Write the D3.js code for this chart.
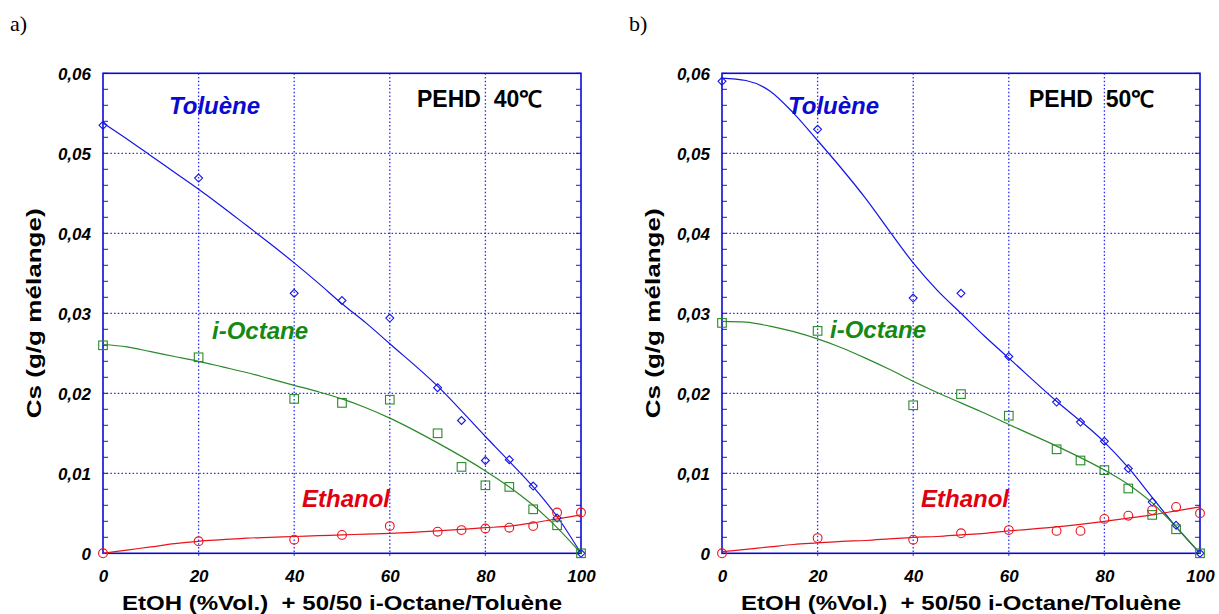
<!DOCTYPE html>
<html><head><meta charset="utf-8">
<script src="https://cdn.jsdelivr.net/npm/d3@7"></script>
<style>
body{margin:0;background:#fff;}
svg text{white-space:pre;}
</style></head>
<body><svg id="c" width="1219" height="614"></svg>
<script>
// ---- data ----
const xPts = [0, 20, 40, 50, 60, 70, 75, 80, 85, 90, 95, 100];
const tolA = [0.0535, 0.0469, 0.0325, 0.0316, 0.0294, 0.0207, 0.0166, 0.0116, 0.0117, 0.0084, 0.0044, 0];
const octA = [0.0260, 0.0245, 0.0193, 0.0188, 0.0192, 0.0150, 0.0108, 0.0085, 0.0083, 0.0055, 0.0035, 0];
const ethA = [0, 0.0015, 0.0017, 0.0023, 0.0034, 0.0027, 0.0029, 0.0031, 0.0032, 0.0034, 0.0051, 0.0051];
const tolB = [0.0590, 0.0530, 0.0319, 0.0325, 0.0246, 0.0189, 0.0164, 0.0140, 0.0106, 0.0064, 0.0035, 0];
const octB = [0.0288, 0.0278, 0.0185, 0.0199, 0.0172, 0.0130, 0.0116, 0.0104, 0.0081, 0.0048, 0.0030, 0];
const ethB = [0, 0.0019, 0.0017, 0.0025, 0.0029, 0.0028, 0.0028, 0.0043, 0.0047, 0.0054, 0.0058, 0.0050];

// fitted curves
const fitX = [0, 5, 10, 15, 20, 25, 30, 35, 40, 45, 50, 55, 60, 70, 80, 85, 90, 95, 100];
const tolFitA = [0.0538, 0.0518, 0.0497, 0.0476, 0.0455, 0.0433, 0.0410, 0.0387, 0.0363, 0.0338, 0.0312, 0.0288, 0.0262, 0.0209, 0.0146, 0.0115, 0.0083, 0.0046, 0];
const octFitA = [0.0261, 0.0258, 0.0252, 0.0246, 0.0240, 0.0233, 0.0226, 0.0218, 0.0210, 0.0202, 0.0193, 0.0182, 0.0169, 0.0138, 0.0103, 0.0083, 0.0060, 0.0032, 0];
const ethFitA = [0, 0.0004, 0.0008, 0.0012, 0.0015, 0.0017, 0.0019, 0.0020, 0.0021, 0.0022, 0.0023, 0.0024, 0.0025, 0.0028, 0.0032, 0.0034, 0.0038, 0.0043, 0.0048];
const tolFitB = [0.0594, 0.0591, 0.0578, 0.0550, 0.0516, 0.0481, 0.0444, 0.0403, 0.0363, 0.0329, 0.0300, 0.0271, 0.0244, 0.0190, 0.0139, 0.0107, 0.0070, 0.0033, 0];
const octFitB = [0.0290, 0.0289, 0.0284, 0.0277, 0.0268, 0.0257, 0.0244, 0.0230, 0.0215, 0.0201, 0.0188, 0.0175, 0.0161, 0.0134, 0.0104, 0.0086, 0.0063, 0.0033, 0];
const ethFitB = [0.0002, 0.0005, 0.0008, 0.0011, 0.0013, 0.0015, 0.0016, 0.0018, 0.0020, 0.0021, 0.0023, 0.0025, 0.0028, 0.0033, 0.0040, 0.0044, 0.0048, 0.0053, 0.0058];

const xTicks = [0, 20, 40, 60, 80, 100];
const yTicks = [0, 0.01, 0.02, 0.03, 0.04, 0.05, 0.06];
const yMinor = d3.range(0, 0.0601, 0.002);
const panelLetters = ["a)", "b)"];
const titles = ["PEHD  40\u2103", "PEHD  50\u2103"];
const xTitle = "EtOH (%Vol.)  + 50/50 i-Octane/Toluène";
const yTitle = "Cs (g/g mélange)";
const seriesNames = ["Toluène", "i-Octane", "Ethanol"];

// ---- styles ----
const BLUE = "#1414e6", GREEN = "#2a8a2a", RED = "#e8141c";
const TBLUE = "#0a0ad0", TGREEN = "#148a14", TRED = "#e00010";
const SANS = "'Liberation Sans', Arial, sans-serif";

const svg = d3.select("#c");

function panel(opt) {
  const x = d3.scaleLinear().domain([0, 100]).range([opt.x0, opt.x1]);
  const y = d3.scaleLinear().domain([0, 0.06]).range([553.3, 73.3]);
  const g = svg.append("g");

  g.append("text").attr("x", opt.letterX).attr("y", 31).text(opt.letter)
    .attr("font-family", "'Liberation Serif', 'Times New Roman', serif").attr("font-size", 22).attr("fill", "#000");

  // grid
  const grid = g.append("g").attr("stroke", "#2a2aff").attr("stroke-width", 1.3).attr("stroke-dasharray", "1.5,2.2");
  grid.selectAll("line.gx").data(xTicks.slice(1, -1)).join("line")
    .attr("x1", d => x(d)).attr("x2", d => x(d)).attr("y1", y(0.06)).attr("y2", y(0) + 3);
  grid.selectAll("line.gy").data(yTicks.slice(1, -1)).join("line")
    .attr("x1", x(0)).attr("x2", x(100)).attr("y1", d => y(d)).attr("y2", d => y(d));

  // y ticks inside both sides
  const tk = g.append("g").attr("stroke", "#1a1ad8").attr("stroke-width", 1);
  tk.selectAll("line.l").data(yMinor).join("line")
    .attr("x1", x(0)).attr("x2", x(0) + 5).attr("y1", d => y(d)).attr("y2", d => y(d));
  tk.selectAll("line.r").data(yMinor).join("line")
    .attr("x1", x(100)).attr("x2", x(100) - 5).attr("y1", d => y(d)).attr("y2", d => y(d));

  const fmt = d => d === 0 ? "0" : d3.format(".2f")(d).replace(".", ",");
  const ya = g.append("g").attr("transform", `translate(${x(0) - 12},0)`)
    .call(d3.axisLeft(y).tickValues(yTicks).tickFormat(fmt).tickSize(0).tickPadding(0));
  ya.select(".domain").remove();
  ya.selectAll("text").attr("font-family", SANS).attr("font-size", 17).attr("font-weight", "bold")
    .attr("font-style", "italic").attr("fill", "#000").attr("dy", "0.36em");

  const xa = g.append("g").attr("transform", `translate(0,${y(0) + 28.5})`)
    .call(d3.axisBottom(x).tickValues(xTicks).tickFormat(d => d).tickSize(0).tickPadding(0));
  xa.select(".domain").remove();
  xa.selectAll("text").attr("font-family", SANS).attr("font-size", 17).attr("font-weight", "bold")
    .attr("font-style", "italic").attr("fill", "#000").attr("dy", 0);

  // frame
  g.append("rect").attr("x", x(0)).attr("y", y(0.06)).attr("width", x(100) - x(0)).attr("height", y(0) - y(0.06))
    .attr("fill", "none").attr("stroke", "#0a0ad8").attr("stroke-width", 1.6);

  // axis titles
  g.append("text").attr("x", (x(0) + x(100)) / 2).attr("y", 610).attr("text-anchor", "middle")
    .attr("textLength", 440).attr("lengthAdjust", "spacingAndGlyphs")
    .attr("font-family", SANS).attr("font-size", 21).attr("font-weight", "bold").attr("fill", "#000").text(xTitle);
  g.append("text").attr("transform", `translate(${x(0) - 62},${(y(0) + y(0.06)) / 2}) rotate(-90)`)
    .attr("text-anchor", "middle").attr("textLength", 210).attr("lengthAdjust", "spacingAndGlyphs")
    .attr("font-family", SANS).attr("font-size", 21).attr("font-weight", "bold")
    .attr("fill", "#000").text(yTitle);

  // fits
  const line = d3.line().x(d => x(d[0])).y(d => y(d[1])).curve(d3.curveMonotoneX);
  [[opt.tolFit, BLUE], [opt.octFit, GREEN], [opt.ethFit, RED]].forEach(([vals, col]) => {
    g.append("path").datum(fitX.map((v, i) => [v, vals[i]])).attr("d", line)
      .attr("fill", "none").attr("stroke", col).attr("stroke-width", 1.2);
  });

  // markers
  const mk = g.append("g").attr("fill", "none").attr("stroke-width", 1.1);
  mk.selectAll("path.dia").data(xPts.map((v, i) => [v, opt.tol[i]])).join("path")
    .attr("d", d3.symbol(d3.symbolDiamond2, 40)).attr("transform", d => `translate(${x(d[0])},${y(d[1])})`)
    .attr("stroke", BLUE);
  mk.selectAll("rect.sq").data(xPts.map((v, i) => [v, opt.oct[i]])).join("rect")
    .attr("x", d => x(d[0]) - 4.3).attr("y", d => y(d[1]) - 4.3).attr("width", 8.6).attr("height", 8.6)
    .attr("stroke", GREEN);
  mk.selectAll("circle.ci").data(xPts.map((v, i) => [v, opt.eth[i]])).join("circle")
    .attr("cx", d => x(d[0])).attr("cy", d => y(d[1])).attr("r", 4.4).attr("stroke", RED);

  // series labels
  const lab = (t, px, py, col) => g.append("text").attr("x", px).attr("y", py).text(t)
    .attr("font-family", SANS).attr("font-size", 24).attr("font-weight", "bold").attr("font-style", "italic").attr("fill", col);
  lab(seriesNames[0], opt.tolLab[0], opt.tolLab[1], TBLUE);
  lab(seriesNames[1], opt.octLab[0], opt.octLab[1], TGREEN);
  lab(seriesNames[2], opt.ethLab[0], opt.ethLab[1], TRED);

  g.append("text").attr("x", opt.titleX).attr("y", 106.7).text(opt.title)
    .attr("font-family", SANS).attr("font-size", 23).attr("font-weight", "bold").attr("fill", "#000");
}

panel({x0: 103, x1: 581, letter: panelLetters[0], letterX: 10, title: titles[0], titleX: 417,
  tol: tolA, oct: octA, eth: ethA, tolFit: tolFitA, octFit: octFitA, ethFit: ethFitA,
  tolLab: [169, 114], octLab: [212, 339], ethLab: [302, 506.7]});
panel({x0: 722, x1: 1200, letter: panelLetters[1], letterX: 629, title: titles[1], titleX: 1029,
  tol: tolB, oct: octB, eth: ethB, tolFit: tolFitB, octFit: octFitB, ethFit: ethFitB,
  tolLab: [788, 114], octLab: [830, 338], ethLab: [921, 506.7]});
</script></body></html>
